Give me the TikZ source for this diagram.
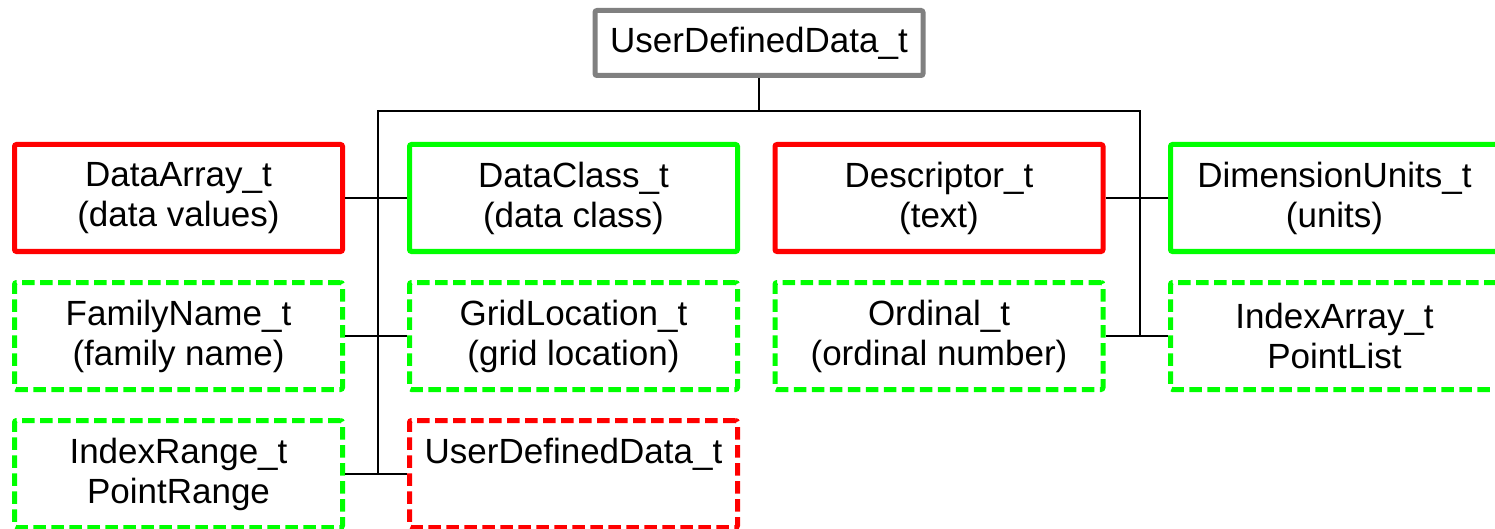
\documentclass[tikz,border=0pt]{standalone}
\usepackage{fontspec}
\setmainfont{Liberation Sans}
\definecolor{boxred}{RGB}{255,0,0}
\definecolor{boxgreen}{RGB}{0,255,0}
\definecolor{boxgray}{RGB}{128,128,128}
\tikzset{
  typebox/.style={draw, rectangle, rounded corners=2pt, line width=5pt,
    minimum width=328pt, minimum height=107pt, inner sep=0pt,
    align=center, font=\fontsize{35}{40}\selectfont},
  required/.style={typebox, draw=boxred},
  optional/.style={typebox, draw=boxgreen},
  optred/.style={required, dash pattern=on 12.5pt off 5.5pt},
  optgreen/.style={optional, dash pattern=on 12.5pt off 5.5pt},
  rootbox/.style={draw=boxgray, rectangle, rounded corners=2pt, line width=5pt,
    minimum width=328pt, minimum height=65pt, inner sep=0pt,
    font=\fontsize{35}{40}\selectfont},
  link/.style={draw=black, line width=2.5pt}
}
\begin{document}
\begin{tikzpicture}[x=1pt, y=-1pt]
\clip (0,0) rectangle (1495,529);
\fill[white] (0,0) rectangle (1495,529);

% root
\node[rootbox] (root) at (759,43) {UserDefinedData\_t};

% column 1
\node[required] (darray) at (178.5,198) {DataArray\_t\\(data values)};
\node[optgreen] (fname) at (178.5,336) {FamilyName\_t\\(family name)};
\node[optgreen] (irange) at (178.5,474) {IndexRange\_t\\PointRange};

% column 2
\node[optional] (dclass) at (573.5,198) {DataClass\_t\\(data class)};
\node[optgreen] (gloc) at (573.5,336) {GridLocation\_t\\(grid location)};
\node[optred] (udd) at (573.5,474) {UserDefinedData\_t\\\phantom{(X)}};

% column 3
\node[required] (descr) at (939,198) {Descriptor\_t\\(text)};
\node[optgreen] (ordinal) at (939,336) {Ordinal\_t\\(ordinal number)};

% column 4
\node[optional] (dunits) at (1334.5,198) {DimensionUnits\_t\\(units)};
\node[optgreen] (iarray) at (1334.5,336) {IndexArray\_t\\PointList};

% trunk junctions
\coordinate (jtop) at (759,111);
\coordinate (jleft) at (378,111);
\coordinate (jright) at (1140,111);
\coordinate (jleftend) at (378,474);
\coordinate (jrightend) at (1140,336);

\draw[link] (root.south) -- (jtop);
\draw[link] (jleftend) -- (jleft) -- (jright) -- (jrightend);

% branches
\draw[link] (darray.east) -- (dclass.west);
\draw[link] (fname.east) -- (gloc.west);
\draw[link] (irange.east) -- (udd.west);
\draw[link] (descr.east) -- (dunits.west);
\draw[link] (ordinal.east) -- (iarray.west);
\end{tikzpicture}
\end{document}
